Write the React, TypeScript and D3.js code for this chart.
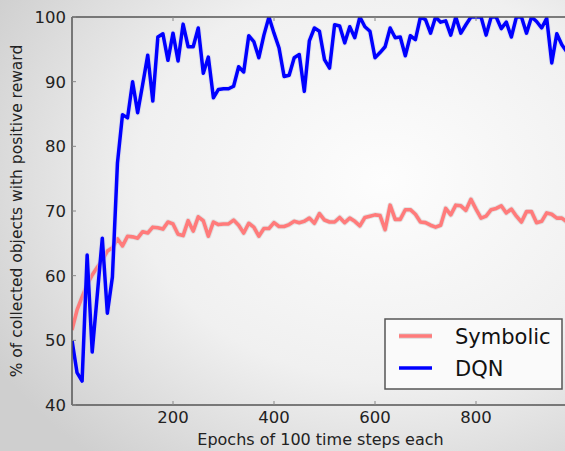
import React from "react";
import * as d3 from "d3";

// epochs sampled every 10 (x 100 time steps)
const epochs = d3.range(0, 1000, 10);

const symbolic = [
  51.6, 54.7, 56.7, 58.6, 60.1, 61.3, 62.4, 63.8, 64.3, 65.7,
  64.6, 66.1, 66, 65.8, 66.8, 66.6, 67.5, 67.4, 67.2, 68.3,
  68, 66.4, 66.2, 68.5, 66.9, 69.1, 68.5, 66.1, 68.3, 67.9,
  68, 68, 68.6, 67.8, 66.6, 68.1, 67.5, 66.1, 67.3, 67.3,
  68.2, 67.6, 67.6, 67.9, 68.4, 68.2, 68.4, 68.9, 68.1, 69.6,
  68.6, 68.3, 68.3, 69, 68.2, 68.9, 68.4, 67.7, 69, 69.2,
  69.4, 69.3, 67.1, 70.9, 68.7, 68.7, 70.2, 70.2, 69.5, 68.3,
  68.2, 67.8, 67.5, 67.8, 70.4, 69.4, 70.9, 70.8, 70.1, 71.8,
  70.3, 68.9, 69.2, 70.2, 70.4, 70.8, 69.7, 70.3, 69.2, 68.3,
  69.9, 69.9, 68.2, 68.4, 69.7, 69.5, 68.9, 68.9, 68.3, 68.3,
];

const dqn = [
  50, 45, 43.7, 63.2, 48.2, 57, 65.8, 54.2, 59.8, 77.4,
  84.9, 84.4, 90, 85.2, 89.6, 94.1, 87, 96.9, 97.4, 93.3,
  97.5, 93.2, 98.9, 95.4, 95.4, 98.3, 91.3, 93.8, 87.5, 88.8,
  88.9, 88.9, 89.3, 92.3, 91.5, 97.1, 96.2, 93.7, 97.2, 100,
  97.5, 95.2, 90.8, 91, 93.7, 94.2, 88.5, 96.3, 98.3, 97.8,
  93.4, 92.1, 98.8, 98.6, 96, 98.5, 96.8, 100, 98.5, 97.8,
  93.7, 94.5, 95.4, 98.3, 96.8, 96.9, 94, 97.1, 96.5, 100,
  99.6, 97.5, 100, 99.2, 99.4, 97.2, 100, 97.5, 98.8, 100,
  100, 100, 97.2, 100, 100, 98.2, 99.2, 96.9, 100, 100,
  97.5, 100, 99.3, 98.3, 99.8, 92.9, 97.4, 95.7, 94.6, 94,
];

const xTicks = [200, 400, 600, 800];
const yTicks = [40, 50, 60, 70, 80, 90, 100];

const W = 565;
const H = 451;
const left = 72, right = 577, top = 17, bottom = 405;

export default function App() {
  const x = d3.scaleLinear().domain([0, 1000]).range([left, right]);
  const y = d3.scaleLinear().domain([40, 100]).range([bottom, top]);
  const line = d3
    .line<number>()
    .x((_, i) => x(epochs[i]))
    .y((d) => y(d));

  const font = "'DejaVu Sans', sans-serif";
  const axisColor = "#555";

  return (
    <svg
      width={W}
      height={H}
      style={{ position: "absolute", left: 0, top: 0 }}
      fontFamily={font}
    >
      <defs>
        <radialGradient id="bg" cx="68%" cy="40%" r="80%">
          <stop offset="0%" stopColor="#fdfdfd" />
          <stop offset="55%" stopColor="#f0f0f0" />
          <stop offset="100%" stopColor="#cfcfcf" />
        </radialGradient>
        <clipPath id="plot">
          <rect x={left} y={top} width={right - left} height={bottom - top} />
        </clipPath>
      </defs>
      <rect width={W} height={H} fill="url(#bg)" />

      <g clipPath="url(#plot)" fill="none" strokeLinejoin="round">
        <path d={line(symbolic) || ""} stroke="#d8d8d8" strokeWidth={5.5} opacity={0.7} />
        <path d={line(symbolic) || ""} stroke="#ff7b7b" strokeWidth={3.6} />
        <path d={line(dqn) || ""} stroke="#d0d0f0" strokeWidth={5.5} opacity={0.5} />
        <path d={line(dqn) || ""} stroke="#0000ff" strokeWidth={3.5} />
      </g>

      {/* spines */}
      <line x1={left} x2={W} y1={top} y2={top} stroke={axisColor} strokeWidth={1.5} />
      <line x1={left} x2={W} y1={bottom} y2={bottom} stroke={axisColor} strokeWidth={1.5} />
      <line x1={left} x2={left} y1={top} y2={bottom} stroke={axisColor} strokeWidth={1.5} />

      {/* y ticks */}
      {yTicks.map((t) => (
        <g key={"y" + t}>
          <line x1={left} x2={left + 4} y1={y(t)} y2={y(t)} stroke="#888" strokeWidth={1} />
          <text
            x={left - 6}
            y={y(t)}
            dy="0.36em"
            textAnchor="end"
            fontSize={16.5}
            fill="#222"
          >
            {t}
          </text>
        </g>
      ))}

      {/* x ticks */}
      {xTicks.map((t) => (
        <g key={"x" + t}>
          <line x1={x(t)} x2={x(t)} y1={bottom} y2={bottom - 4} stroke="#888" strokeWidth={1} />
          <line x1={x(t)} x2={x(t)} y1={top} y2={top + 4} stroke="#888" strokeWidth={1} />
          <text x={x(t)} y={423} textAnchor="middle" fontSize={16.5} fill="#222">
            {t}
          </text>
        </g>
      ))}

      <text x={(left + right) / 2 - 4} y={445} textAnchor="middle" fontSize={16} fill="#222">
        Epochs of 100 time steps each
      </text>
      <text
        transform={`translate(22,${(top + bottom) / 2}) rotate(-90)`}
        textAnchor="middle"
        fontSize={15.5}
        fill="#222"
      >
        % of collected objects with positive reward
      </text>

      {/* legend */}
      <g>
        <rect x={385} y={319} width={177} height={70} fill="#fafafa" stroke={axisColor} strokeWidth={1.5} />
        <line x1={399} x2={432} y1={336} y2={336} stroke="#d8d8d8" strokeWidth={5.5} />
        <line x1={399} x2={432} y1={336} y2={336} stroke="#ff7b7b" strokeWidth={3.6} />
        <line x1={399} x2={432} y1={368} y2={368} stroke="#0000ff" strokeWidth={3.5} />
        <text x={455} y={344} fontSize={21} fill="#111">Symbolic</text>
        <text x={455} y={376} fontSize={21} fill="#111">DQN</text>
      </g>
    </svg>
  );
}
